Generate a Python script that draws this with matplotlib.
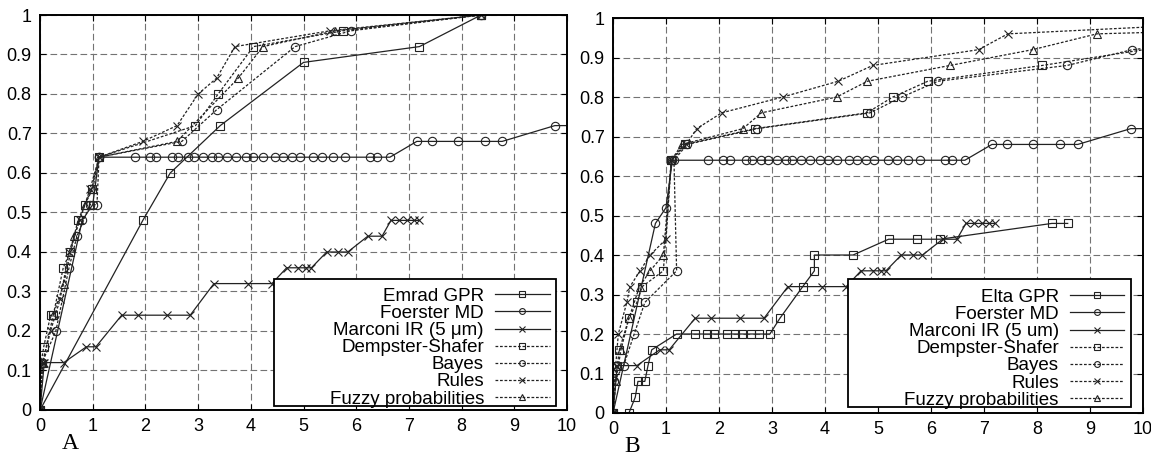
import matplotlib
matplotlib.use("Agg")
import matplotlib.pyplot as plt
from matplotlib.patches import Rectangle

plt.rcParams['font.family'] = ['Liberation Sans', 'DejaVu Sans']

# ---- single sensors (same MD / IR data in both panels) ----
foerster_x = [0, 0.8, 1.0, 1.12, 1.8, 2.08, 2.2, 2.5, 2.62, 2.8, 2.92, 3.1, 3.26, 3.37,
              3.55, 3.72, 3.9, 4.05, 4.23, 4.46, 4.61, 4.78, 4.93, 5.18, 5.35, 5.56,
              5.79, 6.26, 6.39, 6.64, 7.15, 7.44, 7.93, 8.44, 8.77, 9.77, 10.5]
foerster_y = [0, 0.48, 0.52, 0.64, 0.64, 0.64, 0.64, 0.64, 0.64, 0.64, 0.64, 0.64, 0.64, 0.64,
              0.64, 0.64, 0.64, 0.64, 0.64, 0.64, 0.64, 0.64, 0.64, 0.64, 0.64, 0.64,
              0.64, 0.64, 0.64, 0.64, 0.68, 0.68, 0.68, 0.68, 0.68, 0.72, 0.72]

marconi_x = [0, 0.08, 0.45, 0.88, 1.06, 1.55, 1.85, 2.4, 2.85, 3.3, 3.95, 4.4, 4.68, 4.9,
             5.05, 5.15, 5.44, 5.66, 5.84, 6.22, 6.49, 6.66, 6.82, 6.96, 7.1, 7.2]
marconi_y = [0, 0.12, 0.12, 0.16, 0.16, 0.24, 0.24, 0.24, 0.24, 0.32, 0.32, 0.32, 0.36, 0.36,
             0.36, 0.36, 0.40, 0.40, 0.40, 0.44, 0.44, 0.48, 0.48, 0.48, 0.48, 0.48]

emrad_x = [0, 1.95, 2.47, 3.42, 5.0, 7.2, 8.37]
emrad_y = [0, 0.48, 0.60, 0.72, 0.88, 0.92, 1.0]

elta_x = [0, 0.3, 0.42, 0.47, 0.6, 0.66, 0.73, 1.2, 1.55, 1.77, 1.9, 2.15, 2.3, 2.43, 2.6,
          2.75, 2.96, 3.15, 3.58, 3.8, 3.8, 4.53, 5.2, 5.73, 6.17, 8.28, 8.58]
elta_y = [0, 0, 0.04, 0.08, 0.08, 0.12, 0.16, 0.20, 0.20, 0.20, 0.20, 0.20, 0.20, 0.20, 0.20,
          0.20, 0.20, 0.24, 0.32, 0.36, 0.40, 0.40, 0.44, 0.44, 0.44, 0.48, 0.48]

# ---- fusion, panel A ----
ds_a_x = [0, 0.02, 0.07, 0.2, 0.25, 0.44, 0.57, 0.72, 0.85, 0.98, 1.12, 2.95, 3.38, 4.05, 5.75, 8.37]
ds_a_y = [0, 0.12, 0.16, 0.24, 0.24, 0.36, 0.40, 0.48, 0.52, 0.56, 0.64, 0.72, 0.80, 0.92, 0.96, 1.0]
bayes_a_x = [0, 0.04, 0.3, 0.55, 0.7, 0.95, 1.08, 1.12, 2.69, 3.35, 4.84, 5.9, 8.37]
bayes_a_y = [0, 0.12, 0.20, 0.36, 0.44, 0.52, 0.52, 0.64, 0.68, 0.76, 0.92, 0.96, 1.0]
rules_a_x = [0, 0.05, 0.2, 0.38, 0.55, 0.75, 0.95, 1.12, 1.95, 2.6, 3.0, 3.35, 3.7, 5.5, 8.37]
rules_a_y = [0, 0.12, 0.20, 0.28, 0.40, 0.48, 0.56, 0.64, 0.68, 0.72, 0.80, 0.84, 0.92, 0.96, 1.0]
fuzzy_a_x = [0, 0.05, 0.25, 0.45, 0.65, 0.85, 1.0, 1.12, 2.6, 3.76, 4.23, 5.6, 8.37]
fuzzy_a_y = [0, 0.12, 0.24, 0.32, 0.44, 0.52, 0.56, 0.64, 0.68, 0.84, 0.92, 0.96, 1.0]

# ---- fusion, panel B ----
ds_b_x = [0, 0.08, 0.12, 0.3, 0.45, 0.55, 0.95, 1.1, 1.35, 2.68, 4.79, 5.28, 5.94, 8.1, 10.5]
ds_b_y = [0, 0.12, 0.16, 0.24, 0.28, 0.32, 0.36, 0.64, 0.68, 0.72, 0.76, 0.80, 0.84, 0.88, 0.93]
bayes_b_x = [0, 0.02, 0.2, 0.4, 0.6, 1.2, 1.15, 1.4, 2.72, 4.85, 5.45, 6.13, 8.57, 9.8, 10.5]
bayes_b_y = [0, 0.08, 0.12, 0.20, 0.28, 0.36, 0.64, 0.68, 0.72, 0.76, 0.80, 0.84, 0.88, 0.92, 0.93]
rules_b_x = [0, 0.05, 0.1, 0.26, 0.32, 0.51, 0.7, 1.0, 1.1, 1.38, 1.58, 2.05, 3.2, 4.25, 4.9, 6.9, 7.45, 10.5]
rules_b_y = [0, 0.12, 0.20, 0.28, 0.32, 0.36, 0.40, 0.44, 0.64, 0.68, 0.72, 0.76, 0.80, 0.84, 0.88, 0.92, 0.96, 0.98]
fuzzy_b_x = [0, 0.05, 0.15, 0.3, 0.5, 0.7, 0.95, 1.1, 1.3, 2.45, 2.8, 4.22, 4.8, 6.36, 7.92, 9.13, 10.5]
fuzzy_b_y = [0, 0.08, 0.16, 0.24, 0.32, 0.36, 0.40, 0.64, 0.68, 0.72, 0.76, 0.80, 0.84, 0.88, 0.92, 0.96, 0.965]

x_ticks = [0, 1, 2, 3, 4, 5, 6, 7, 8, 9, 10]
y_ticks = [0, 0.1, 0.2, 0.3, 0.4, 0.5, 0.6, 0.7, 0.8, 0.9, 1]
y_ticklabels = ['0', '0.1', '0.2', '0.3', '0.4', '0.5', '0.6', '0.7', '0.8', '0.9', '1']

fusion_labels = ['Dempster-Shafer', 'Bayes', 'Rules', 'Fuzzy probabilities']

solid = '-'
dashed = (0, (2.2, 1.4))
ink = '#222222'


def draw(ax, series, letter, letter_x, box):
    for x, y, marker, ls, label in series:
        ax.plot(x, y, ls=ls, color=ink, lw=0.9, marker=marker, ms=6,
                mfc='none', mec=ink, mew=0.8, label=label)
    ax.set_xlim(0, 10)
    ax.set_ylim(0, 1)
    ax.set_xticks(x_ticks)
    ax.set_yticks(y_ticks)
    ax.set_yticklabels(y_ticklabels)
    ax.tick_params(direction='in', top=True, right=True, labelsize=13, pad=6, length=4)
    ax.grid(True, color='0.45', lw=0.8, ls=(0, (6, 3)))
    for s in ax.spines.values():
        s.set_linewidth(1.4)
    # legend box is wider than its contents in the original, so draw the frame separately
    x0, y0, x1, y1 = box
    ax.add_patch(Rectangle((x0, y0), x1 - x0, y1 - y0, transform=ax.transAxes,
                           facecolor='white', edgecolor='black', lw=1.3, zorder=4.9))
    leg = ax.legend(loc='lower right', bbox_to_anchor=(x1 - 0.012, y0 - 0.004), fontsize=13.5,
                    markerfirst=False, frameon=False, labelspacing=0.0, handlelength=2.9,
                    handletextpad=0.6, borderaxespad=0, borderpad=0.0, markerscale=0.7)
    leg.set_zorder(5)
    for t in leg.get_texts():
        t.set_ha('right')
    leg._legend_box.align = 'right'
    ax.text(letter_x, -0.085, letter, transform=ax.transAxes, fontsize=17,
            family='Liberation Serif', ha='center', va='center')


fig = plt.figure(figsize=(11.51, 4.63), dpi=100)
ax_a = fig.add_axes([0.0348, 0.1145, 0.4578, 0.8531])
ax_b = fig.add_axes([0.5326, 0.108, 0.4604, 0.853])

series_a = [
    (emrad_x, emrad_y, 's', solid, 'Emrad GPR'),
    (foerster_x, foerster_y, 'o', solid, 'Foerster MD'),
    (marconi_x, marconi_y, 'x', solid, 'Marconi IR (5 μm)'),
    (ds_a_x, ds_a_y, 's', dashed, fusion_labels[0]),
    (bayes_a_x, bayes_a_y, 'o', dashed, fusion_labels[1]),
    (rules_a_x, rules_a_y, 'x', dashed, fusion_labels[2]),
    (fuzzy_a_x, fuzzy_a_y, '^', dashed, fusion_labels[3]),
]
series_b = [
    (elta_x, elta_y, 's', solid, 'Elta GPR'),
    (foerster_x, foerster_y, 'o', solid, 'Foerster MD'),
    (marconi_x, marconi_y, 'x', solid, 'Marconi IR (5 um)'),
    (ds_b_x, ds_b_y, 's', dashed, fusion_labels[0]),
    (bayes_b_x, bayes_b_y, 'o', dashed, fusion_labels[1]),
    (rules_b_x, rules_b_y, 'x', dashed, fusion_labels[2]),
    (fuzzy_b_x, fuzzy_b_y, '^', dashed, fusion_labels[3]),
]

draw(ax_a, series_a, 'A', 0.057, (0.444, 0.01, 0.979, 0.332))
draw(ax_b, series_b, 'B', 0.036, (0.443, 0.015, 0.977, 0.339))

fig.savefig('out.png', dpi=100)
